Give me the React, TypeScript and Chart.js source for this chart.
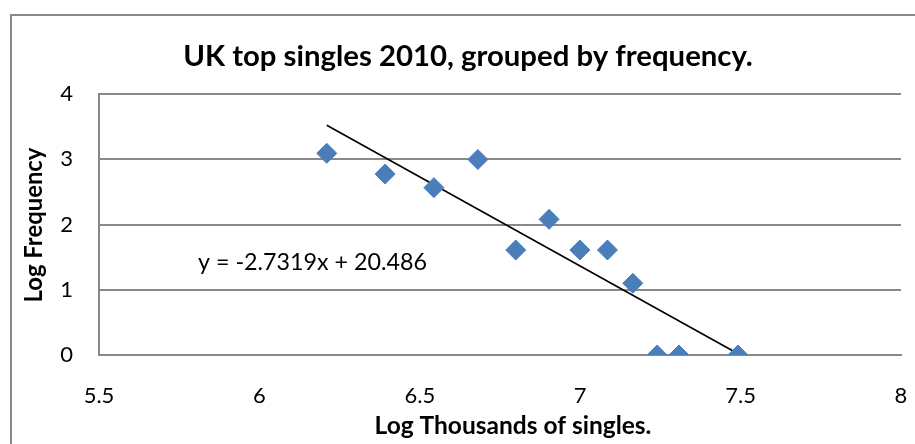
import React, { useEffect, useRef } from 'react';
import { Chart, registerables } from 'chart.js';

Chart.register(...registerables);

// ---- data ----
const logThousands = [6.210, 6.392, 6.544, 6.681, 6.799, 6.903, 6.999, 7.085, 7.164, 7.240, 7.308, 7.492];
const logFrequency = [3.091, 2.773, 2.565, 2.996, 1.609, 2.079, 1.609, 1.609, 1.099, 0, 0, 0];
const trendSlope = -2.7319;
const trendIntercept = 20.486;
const xTickValues = [5.5, 6, 6.5, 7, 7.5, 8];
const yTickValues = [0, 1, 2, 3, 4];
const titleText = 'UK top singles 2010, grouped by frequency.';
const xTitleText = 'Log Thousands of singles.';
const yTitleText = 'Log Frequency';
const equationText = `y = ${trendSlope}x + ${trendIntercept}`;

const FONT = 'Lato, "Liberation Sans", sans-serif';
const GRID = '#898989';

function fitFont(ctx: CanvasRenderingContext2D, text: string, weight: string, targetWidth: number) {
  ctx.font = `${weight} 100px ${FONT}`;
  const w = ctx.measureText(text).width;
  return (100 * targetWidth) / w;
}

const decorPlugin = {
  id: 'decor',
  beforeDraw(chart: any) {
    const ctx = chart.ctx as CanvasRenderingContext2D;
    ctx.save();
    ctx.fillStyle = '#ffffff';
    ctx.fillRect(0, 0, chart.width, chart.height);
    ctx.strokeStyle = GRID;
    ctx.lineWidth = 2;
    ctx.beginPath();
    ctx.moveTo(11, chart.height);
    ctx.lineTo(11, 15);
    ctx.lineTo(chart.width, 15);
    ctx.stroke();
    ctx.restore();
  },
  afterDraw(chart: any) {
    const ctx = chart.ctx as CanvasRenderingContext2D;
    ctx.save();
    ctx.fillStyle = '#000000';
    ctx.textAlign = 'center';
    ctx.textBaseline = 'alphabetic';
    // title
    let s = fitFont(ctx, titleText, 'bold', 570);
    ctx.font = `bold ${s}px ${FONT}`;
    ctx.fillText(titleText, 468, 66);
    // x axis title
    s = fitFont(ctx, xTitleText, 'bold', 277);
    ctx.font = `bold ${s}px ${FONT}`;
    ctx.fillText(xTitleText, 513, 434);
    // y axis title
    s = fitFont(ctx, yTitleText, 'bold', 155);
    ctx.font = `bold ${s}px ${FONT}`;
    ctx.translate(42, 225);
    ctx.rotate(-Math.PI / 2);
    ctx.fillText(yTitleText, 0, 0);
    ctx.restore();
    // trendline equation
    ctx.save();
    s = fitFont(ctx, equationText, 'normal', 229);
    ctx.font = `normal ${s}px ${FONT}`;
    ctx.fillStyle = '#000000';
    ctx.textAlign = 'left';
    ctx.textBaseline = 'alphabetic';
    ctx.fillText(equationText, 198, 270);
    ctx.restore();
  },
};

export default function App() {
  const canvasRef = useRef<HTMLCanvasElement | null>(null);

  useEffect(() => {
    if (!canvasRef.current) return;
    const xMin = Math.min(...logThousands);
    const xMax = Math.max(...logThousands);
    const trendPoints = [xMin, xMax].map((x) => ({ x, y: trendSlope * x + trendIntercept }));
    const points = logThousands.map((x, i) => ({ x, y: logFrequency[i] }));

    const chart = new Chart(canvasRef.current, {
      type: 'scatter',
      data: {
        datasets: [
          {
            label: 'Trend',
            data: trendPoints,
            showLine: true,
            borderColor: '#000000',
            borderWidth: 1.6,
            pointRadius: 0,
            pointHoverRadius: 0,
            order: 2,
          },
          {
            label: 'Log Frequency',
            data: points,
            pointStyle: 'rectRot',
            pointRadius: 10,
            pointHoverRadius: 10,
            backgroundColor: '#4A7EBB',
            borderColor: '#4A7EBB',
            borderWidth: 1,
            order: 1,
          },
        ],
      },
      options: {
        responsive: false,
        animation: false,
        layout: { padding: { top: 94, right: 14, left: 0, bottom: 0 } },
        plugins: {
          legend: { display: false },
          title: { display: false },
          tooltip: { enabled: false },
        },
        scales: {
          x: {
            type: 'linear',
            min: xTickValues[0],
            max: xTickValues[xTickValues.length - 1],
            afterBuildTicks: (scale: any) => {
              scale.ticks = xTickValues.map((v) => ({ value: v }));
            },
            afterFit: (scale: any) => {
              scale.height = 89;
              scale.paddingLeft = 0;
              scale.paddingRight = 0;
            },
            grid: { display: false, drawTicks: false },
            border: { display: true, color: GRID, width: 2 },
            ticks: {
              padding: 28,
              color: '#000000',
              font: { family: FONT, size: 22 },
              maxRotation: 0,
              autoSkip: false,
              callback: (v: any) => String(v),
            },
          },
          y: {
            type: 'linear',
            min: yTickValues[0],
            max: yTickValues[yTickValues.length - 1],
            afterBuildTicks: (scale: any) => {
              scale.ticks = yTickValues.map((v) => ({ value: v }));
            },
            afterFit: (scale: any) => {
              scale.width = 99;
              scale.paddingTop = 0;
              scale.paddingBottom = 0;
            },
            grid: { display: true, color: GRID, lineWidth: 2, drawTicks: false },
            border: { display: true, color: GRID, width: 2 },
            ticks: {
              padding: 26,
              color: '#000000',
              font: { family: FONT, size: 22 },
              callback: (v: any) => String(v),
            },
          },
        },
      },
      plugins: [decorPlugin],
    });
    return () => chart.destroy();
  }, []);

  return (
    <div style={{ position: 'absolute', left: 0, top: 0, width: 915, height: 444, background: '#fff' }}>
      <canvas ref={canvasRef} width={915} height={444} style={{ display: 'block', width: 915, height: 444 }} />
    </div>
  );
}
